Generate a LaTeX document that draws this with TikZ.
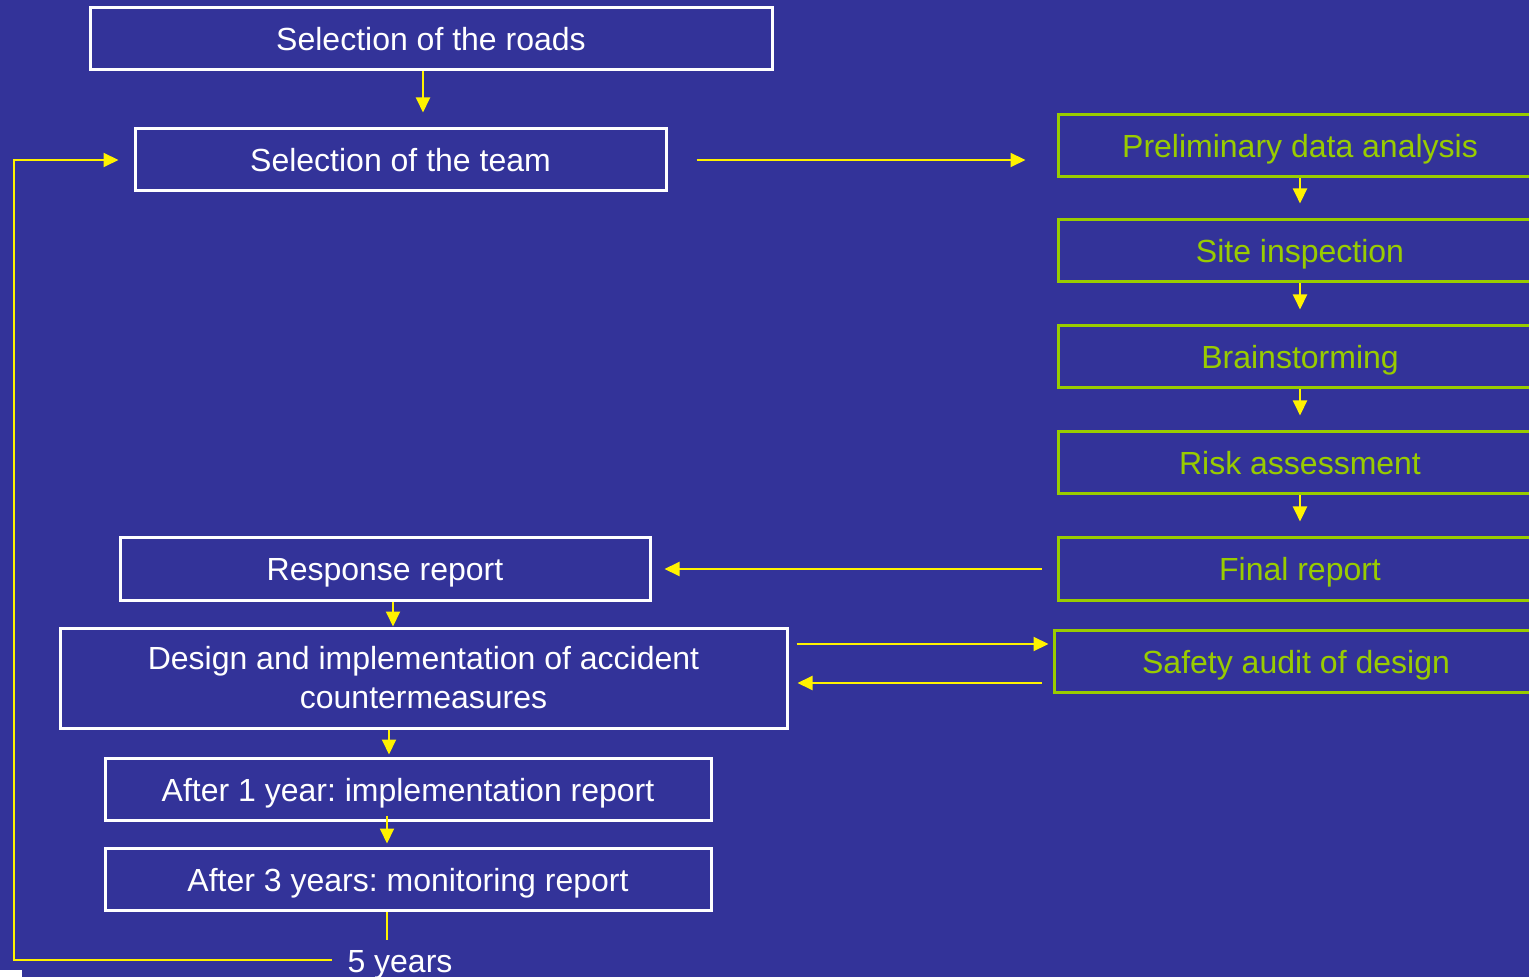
\documentclass[tikz,border=0pt]{standalone}
\usepackage{fontspec}
\setmainfont{Liberation Sans}
\frenchspacing
\usetikzlibrary{positioning,arrows.meta,calc}
\definecolor{slidebg}{RGB}{51,51,153}
\definecolor{auditgreen}{RGB}{153,204,0}
\begin{document}
\begin{tikzpicture}[
    x=0.5pt, y=-0.5pt,
    every node/.style={font=\fontsize{16pt}{19.5pt}\selectfont, text height=12pt, text depth=0pt},
    step box/.style={draw=white, line width=1.5pt, text=white, align=center,
                    minimum height=31pt, inner sep=0pt},
    audit box/.style={draw=auditgreen, line width=1.5pt, text=auditgreen, align=center,
                    minimum width=242pt, minimum height=31pt, inner sep=0pt},
    flow/.style={draw=yellow, line width=1pt, ->},
    >={Triangle[length=7.5pt, width=7pt]}
]
  \fill[slidebg] (0,0) rectangle (1529,977);
  \useasboundingbox (0,0) rectangle (1529,977);
  \fill[white] (0,970) rectangle (22,977);

  % left column: the road audit steps
  \node[step box, minimum width=341pt] (roads) at (431,39) {Selection of the roads};
  \node[step box, minimum width=265.5pt] (team) at (400.5,160) {Selection of the team};
  \node[step box, minimum width=265pt] (response) at (385,569) {Response report};
  \node[step box, minimum width=363.5pt, minimum height=50pt, text height=, text depth=] (design) at (423.5,678)
    {Design and implementation of accident\\countermeasures};
  \node[step box, minimum width=303pt] (after1) at (408,789) {After 1 year: implementation report};
  \node[step box, minimum width=303pt] (after3) at (408,879) {After 3 years: monitoring report};
  \node[text=white, inner sep=0pt] (years) at (400,960) {5 years};

  % right column: the audit itself
  \node[audit box] (prelim) at (1300,145.5) {Preliminary data analysis};
  \node[audit box] (site) at (1300,251) {Site inspection};
  \node[audit box] (brain) at (1300,357) {Brainstorming};
  \node[audit box] (risk) at (1300,463) {Risk assessment};
  \node[audit box] (final) at (1300,569) {Final report};
  \node[audit box] (safety) at (1296,661) {Safety audit of design};

  \draw[flow, shorten >=7.5pt] ([xshift=-4pt]roads.south) -- ([xshift=-4pt]roads.south |- team.north);
  \draw[flow, shorten <=14.5pt, shorten >=15.5pt] (team.east) -- (team.east -| prelim.west);
  \foreach \a/\b in {prelim/site, site/brain, brain/risk, risk/final}
    \draw[flow, shorten >=7.5pt] (\a.south) -- (\b.north);
  \draw[flow, shorten <=7.5pt, shorten >=6.5pt] (final.west) -- (final.west -| response.east);
  \draw[flow, shorten <=4pt, shorten >=2pt] ([yshift=17pt]design.east) -- ([yshift=17pt]design.east -| safety.west);
  \draw[flow, shorten <=5.5pt, shorten >=4.5pt] ([yshift=-11pt]safety.west) -- ([yshift=-11pt]safety.west -| design.east);
  \draw[flow] ([xshift=4pt]response.south) -- ([xshift=4pt]response.south |- design.north);
  \draw[flow, shorten >=1pt] ([xshift=-17.25pt]design.south) -- ([xshift=-17.25pt]design.south |- after1.north);
  \draw[flow, shorten <=-3pt, shorten >=1.5pt] ([xshift=-10.5pt]after1.south) -- ([xshift=-10.5pt]after1.south |- after3.north);
  \draw[flow, -, shorten >=4pt] ([xshift=-10.5pt]after3.south) -- ([xshift=-10.5pt]after3.south |- years.north);
  \draw[flow, shorten <=7.5pt, shorten >=7.5pt] (years.west) -| ([xshift=-60pt]team.west) -- (team.west);
\end{tikzpicture}
\end{document}
